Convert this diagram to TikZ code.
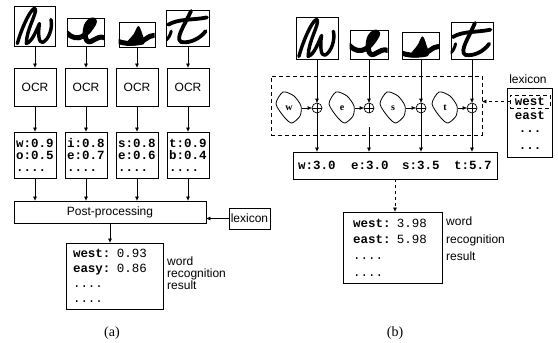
\documentclass[tikz,border=0pt]{standalone}
\usepackage{fontspec}
\setmainfont{Liberation Serif}
\setsansfont{Liberation Sans}
\setmonofont{Liberation Mono}
\usetikzlibrary{arrows.meta}

\tikzset{
  box/.style={draw, line width=0.8pt, inner sep=1pt},
  imgbox/.style={draw, line width=0.9pt, inner sep=0pt},
  glyph/.style={line width=3.4pt, line cap=round, line join=round},
  lbl/.style={font=\sffamily\fontsize{12}{13}\selectfont},
  data/.style={font=\ttfamily\bfseries\fontsize{12.5}{12}\selectfont, align=left, inner sep=1pt},
  resbox/.style={draw, line width=0.8pt, align=left, inner ysep=1pt},
  dashbox/.style={draw, line width=0.7pt, dash pattern=on 4pt off 3pt},
  blobtext/.style={font=\bfseries\fontsize{10}{10}\selectfont, inner sep=0pt, minimum width=26pt},
  plusnode/.style={circle, draw, line width=0.7pt, minimum size=10pt, inner sep=0pt,
    path picture={\draw[line width=0.7pt] (path picture bounding box.north) -- (path picture bounding box.south)
      (path picture bounding box.west) -- (path picture bounding box.east);}},
  conn/.style={line width=0.7pt, -{Triangle[length=4pt,width=3.5pt]}}
}

% handwritten letters, drawn in a unit box (y going down)
\newcommand{\glyphw}{\draw[glyph] (0.08,0.95) .. controls (0.2,0.5) and (0.45,0.0) .. (0.52,0.08) .. controls (0.56,0.2) and (0.3,0.6) .. (0.3,0.95) .. controls (0.45,0.9) and (0.55,0.6) .. (0.62,0.45) .. controls (0.58,0.7) and (0.6,0.95) .. (0.7,0.92) .. controls (0.85,0.85) and (0.95,0.55) .. (0.9,0.35);}
\newcommand{\glyphe}{\draw[glyph, line width=5pt] (0.0,0.55) .. controls (0.3,0.95) and (0.55,0.6) .. (0.72,0.22) .. controls (0.8,0.0) and (0.6,0.05) .. (0.52,0.3) .. controls (0.45,0.6) and (0.5,0.95) .. (0.65,0.85) .. controls (0.8,0.75) and (0.9,0.65) .. (1.0,0.72);}
\newcommand{\glyphs}{\fill plot[smooth cycle, tension=0.6] coordinates {(0.22,0.92) (0.42,0.5) (0.55,0.18) (0.66,0.5) (0.7,0.9)};
  \draw[glyph, line width=5pt] (0.0,0.8) .. controls (0.3,0.95) and (0.6,0.85) .. (0.75,0.7) .. controls (0.85,0.6) and (0.92,0.55) .. (1.0,0.55);}
\newcommand{\glypht}{\draw[glyph, line width=3.8pt] (0.58,0.04) .. controls (0.45,0.4) and (0.2,0.8) .. (0.35,0.9) .. controls (0.55,0.95) and (0.8,0.8) .. (0.92,0.6);
  \draw[glyph, line width=3.8pt] (0.05,0.42) .. controls (0.3,0.25) and (0.6,0.3) .. (0.95,0.22);
  \draw[glyph, line width=3pt] (0.0,0.85) .. controls (0.06,0.8) and (0.1,0.7) .. (0.12,0.6);}

% #1 name, #2 x, #3 y, #4 width, #5 height, #6 letter
\newcommand{\letterbox}[6]{\node[imgbox, minimum width=#4, minimum height=#5] (#1) at (#2,#3) {};
  \begin{scope}[shift={(#1.north west)}, x=#4pt, y=-#5pt]
    \clip (0,0) rectangle (1,1);
    #6
  \end{scope}}

% #1 name, #2 x, #3 y, #4 letter
\newcommand{\blob}[4]{\node[blobtext] (#1) at (#2,#3) {#4};
  \begin{scope}[shift={(#2,#3)}]
    \draw[line width=0.8pt] plot[smooth cycle, tension=0.45] coordinates {(-6,-16) (5,-12) (12,-2) (11,8) (3,15) (-4,10) (-13,-4)};
  \end{scope}}

\begin{document}
\begin{tikzpicture}[x=1pt, y=-1pt]
  \useasboundingbox (0,0) rectangle (558,343);

  % (a) letter images
  \letterbox{imgw}{35}{26}{41}{40}{\glyphw}
  \letterbox{imge}{86}{32}{37}{28}{\glyphe}
  \letterbox{imgs}{137}{34.5}{36}{25}{\glyphs}
  \letterbox{imgt}{188}{28}{43}{36}{\glypht}
  % (a) OCR
  \node[box, lbl, minimum width=42, minimum height=38] (ocrw) at (35,87) {OCR};
  \node[box, lbl, minimum width=42, minimum height=38] (ocre) at (86,87) {OCR};
  \node[box, lbl, minimum width=42, minimum height=38] (ocrs) at (137,87) {OCR};
  \node[box, lbl, minimum width=42, minimum height=38] (ocrt) at (188,87) {OCR};
  % (a) candidates
  \node[box, data, minimum width=42, minimum height=46] (listw) at (35,155) {w:0.9\\o:0.5\\....};
  \node[box, data, minimum width=42, minimum height=46] (liste) at (86,155) {i:0.8\\e:0.7\\....};
  \node[box, data, minimum width=42, minimum height=46] (lists) at (137,155) {s:0.8\\e:0.6\\....};
  \node[box, data, minimum width=42, minimum height=46] (listt) at (188,155) {t:0.9\\b:0.4\\....};
  % (a) post-processing
  \node[box, lbl, minimum width=192, minimum height=22] (post) at (110,212) {Post-processing};
  \node[box, lbl, minimum width=41, minimum height=21] (lexa) at (249.5,218.5) {lexicon};
  \node[resbox, font=\ttfamily\fontsize{12.5}{15}\selectfont, text width=83, inner xsep=7, minimum height=66] (resa) at (114.5,276)
    {\textbf{west:} 0.93\\\textbf{easy:} 0.86\\....\\....};
  \node[lbl, font=\sffamily\fontsize{12}{12}\selectfont, anchor=north west, align=left, inner sep=0pt] (wra) at (167,257) {word\\recognition\\result};

  \foreach \c in {w,e,s,t} {
    \draw[conn] (img\c) -- (ocr\c);
    \draw[conn] (ocr\c) -- (list\c);
    \draw[conn] (list\c) -- (list\c |- post.north);
  }
  \draw[conn] (lexa.west) -- (lexa.west -| post.east);
  \draw[conn] (post.south) -- (post.south |- resa.north);

  % (b) letter images
  \letterbox{bimgw}{317}{38}{42}{42}{\glyphw}
  \letterbox{bimge}{369}{44.5}{38}{29}{\glyphe}
  \letterbox{bimgs}{421}{45.5}{37}{27}{\glyphs}
  \letterbox{bimgt}{472}{40.5}{42}{37}{\glypht}
  % (b) matching
  \node[dashbox, minimum width=211, minimum height=59] (dash) at (376.5,105.5) {};
  \blob{blobw}{289}{108}{w}
  \blob{blobe}{342}{108}{e}
  \blob{blobs}{393}{108}{s}
  \blob{blobt}{445}{108}{t}
  \node[plusnode] (plusw) at (317,108) {};
  \node[plusnode] (pluse) at (369,108) {};
  \node[plusnode] (pluss) at (421,108) {};
  \node[plusnode] (plust) at (472,108) {};
  % (b) scores
  \node[box, minimum width=204, minimum height=27] (score) at (395,165.5) {};
  \node[data] (scw) at (317,165.5) {w:3.0};
  \node[data] (sce) at (370,165.5) {e:3.0};
  \node[data] (scs) at (421,165.5) {s:3.5};
  \node[data] (sct) at (473,165.5) {t:5.7};
  % (b) lexicon
  \node[lbl] (lexlbl) at (528,79) {lexicon};
  \node[box, minimum width=45, minimum height=69] (lexb) at (529.5,122.5) {};
  \node[data, dashbox, minimum width=40, minimum height=13, inner sep=0pt] (lexw) at (530,101.5) {west};
  \node[data] (lexe) at (530,115.5) {east};
  \node[data] (lexd1) at (530,132) {...};
  \node[data] (lexd2) at (530,149) {...};
  % (b) result
  \node[resbox, font=\ttfamily\fontsize{12.5}{16.3}\selectfont, text width=79, inner xsep=10, minimum height=71] (resb) at (392.5,247.5)
    {\textbf{west:} 3.98\\\textbf{east:} 5.98\\....\\....};
  \node[lbl, font=\sffamily\fontsize{12}{17.5}\selectfont, anchor=north west, align=left, inner sep=0pt] (wrb) at (446,217) {word\\recognition\\result};

  \foreach \c in {w,e,s,t} {
    \draw[conn] (bimg\c) -- (plus\c);
    \draw[conn] (blob\c) -- (plus\c);
  }
  \foreach \c in {w,s,t}
    \draw[conn] (plus\c) -- (plus\c |- score.north);
  \coordinate (ecut) at (369,127);
  \draw[conn] (ecut) -- (ecut |- score.north);
  \draw[conn, dashed] (lexw) -- (lexw -| dash.east);
  \draw[conn, dashed] (score) -- (score |- resb.north);

  % captions
  \node[font=\fontsize{14}{16}\selectfont] (capa) at (112,333) {(a)};
  \node[font=\fontsize{14}{16}\selectfont] (capb) at (395,333) {(b)};
\end{tikzpicture}
\end{document}
